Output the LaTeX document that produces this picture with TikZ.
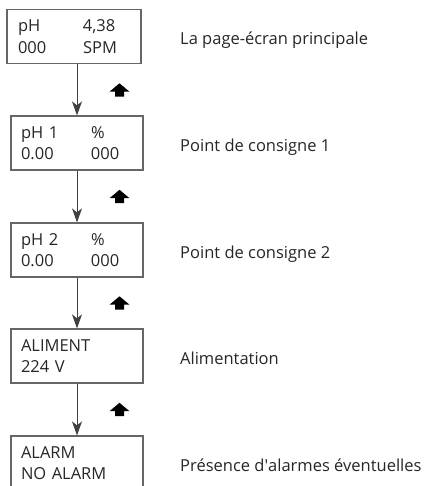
\documentclass[tikz,border=0pt]{standalone}
\usepackage{fontspec}
\setmainfont{Open Sans}
\usetikzlibrary{arrows.meta}

\tikzset{
    screen/.style={draw=black!60, line width=1.2pt, rectangle, inner sep=0pt,
        minimum height=54pt, align=left, text=black!85, font=\fontsize{16.5}{21.5}\selectfont},
    lbl/.style={anchor=base west, inner sep=0pt, text=black!85, font=\fontsize{16.5}{21.5}\selectfont},
    down/.style={draw=black!75, line width=0.9pt, -{Stealth[length=14pt,width=10pt,inset=4pt]}},
    upblock/.style={fill=black}
}
\newcommand{\col}[2]{\makebox[#1][l]{#2}}

\begin{document}
\begin{tikzpicture}[x=1pt,y=-1pt]
        \useasboundingbox (0,0) rectangle (423,486);

        %Screens
        \node[screen, minimum width=134pt, text width=112pt] (scr1) at (74,36.5) {\col{65pt}{pH}4,38\\\col{65pt}{000}SPM};
        \node[screen, minimum width=132pt, text width=112pt] (scr2) at (77,143) {\col{70pt}{pH 1}\%\\\col{70pt}{0.00}000};
        \node[screen, minimum width=132pt, text width=112pt] (scr3) at (77,250) {\col{70pt}{pH 2}\%\\\col{70pt}{0.00}000};
        \node[screen, minimum width=132pt, text width=112pt] (scr4) at (77,356) {ALIMENT\\224 V};
        \node[screen, minimum width=132pt, text width=112pt] (scr5) at (77,463) {ALARM\\NO ALARM};

        %Labels
        \node[lbl] (lbl1) at (180,45) {La page-écran principale};
        \node[lbl] (lbl2) at (180,151.5) {Point de consigne 1};
        \node[lbl] (lbl3) at (180,258) {Point de consigne 2};
        \node[lbl] (lbl4) at (180,364.5) {Alimentation};
        \node[lbl] (lbl5) at (180,471) {Présence d\textquotesingle alarmes éventuelles};

        %Arrows
        \draw[down] (scr1.south -| scr2.north) -- (scr2.north);
        \draw[down] (scr2.south) -- (scr3.north);
        \draw[down] (scr3.south) -- (scr4.north);
        \draw[down] (scr4.south) -- (scr5.north);

        \coordinate (up1) at (119.5,90);
        \coordinate (up2) at (119.5,196.5);
        \coordinate (up3) at (119.5,303);
        \coordinate (up4) at (119.5,409.5);
        \foreach \u in {up1,up2,up3,up4}
            \fill[upblock, shift={(\u)}] (0,-6.7) -- (10,1.7) -- (4.5,1.7) -- (4.5,6.7) -- (-4.5,6.7) -- (-4.5,1.7) -- (-10,1.7) -- cycle;
    \end{tikzpicture}
\end{document}
